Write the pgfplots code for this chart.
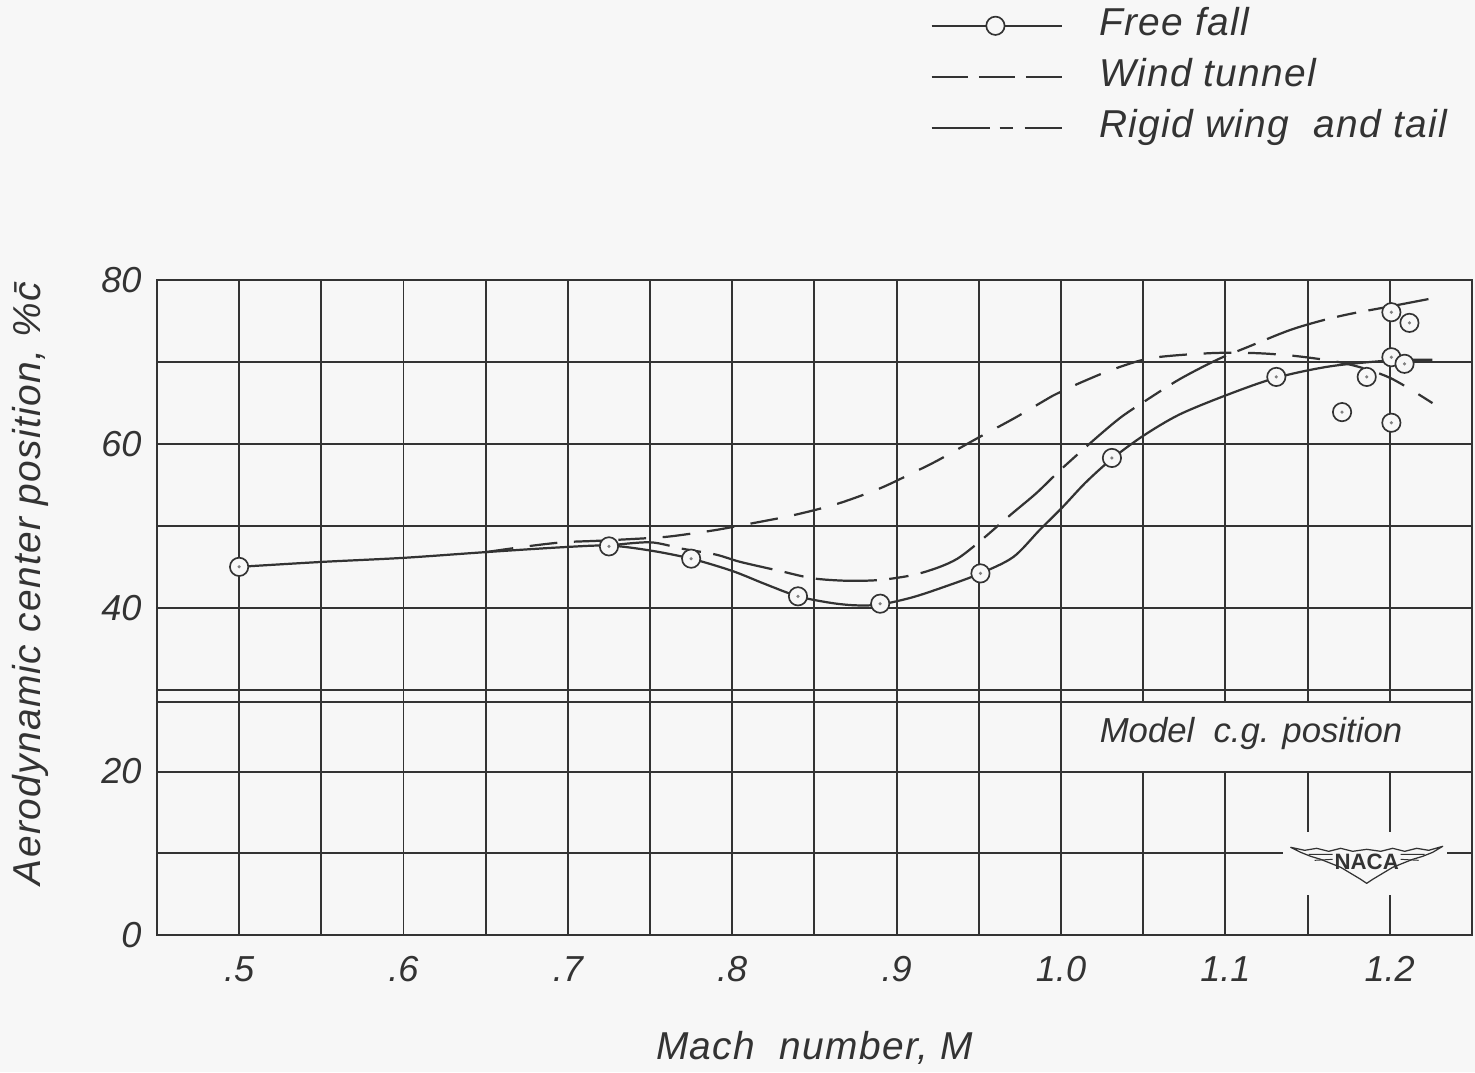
\documentclass[border=0pt]{standalone}
\usepackage{pgfplots}
\pgfplotsset{compat=1.18}
\usepackage{fontspec}
\setmainfont{Liberation Sans}
\newfontfamily\spaced{Liberation Sans}[LetterSpace=3.5]
\definecolor{ink}{rgb}{0.2,0.2,0.2}
\definecolor{paper}{rgb}{0.97,0.97,0.97}

\begin{document}
\begin{tikzpicture}
\fill[paper] (0,0) rectangle (531pt,386pt);
\useasboundingbox (0,0) rectangle (531pt,386pt);
\begin{axis}[
  at={(56.5pt,49.3pt)}, anchor=south west,
  scale only axis, width=473.4pt, height=235.8pt,
  xmin=0.45, xmax=1.25, ymin=0, ymax=80,
  xtick={0.5,0.6,0.7,0.8,0.9,1.0,1.1,1.2},
  xticklabels={.5,.6,.7,.8,.9,1.0,1.1,1.2},
  minor xtick={0.55,0.65,0.75,0.85,0.95,1.05,1.15},
  ytick={0,20,40,60,80},
  yticklabels={0,20,40,60,80},
  minor ytick={10,30,50,70},
  grid=both,
  major grid style={ink, line width=0.7pt},
  minor grid style={ink, line width=0.7pt},
  axis line style={ink, line width=0.8pt},
  major tick length=0pt, minor tick length=0pt,
  tick label style={font=\fontsize{13}{15}\selectfont\itshape, text=ink},
  xticklabel style={yshift=-4pt},
  yticklabel style={xshift=-2pt},
  xlabel={Mach\ \ number, M},
  ylabel={Aerodynamic center position, \%\={c}},
  every axis x label/.style={at={(rel axis cs:0.5,0)}, yshift=-40.7pt, anchor=center, font=\fontsize{14}{17}\selectfont\spaced\itshape, text=ink},
  every axis y label/.style={at={(rel axis cs:0,0.537)}, xshift=-45.7pt, rotate=90, anchor=center, font=\fontsize{14}{17}\selectfont\spaced\itshape, text=ink},
  legend style={draw=none, fill=none, at={(rel axis cs:0.5878,1.417)}, anchor=north west,
    inner sep=0pt, row sep=5.4pt, font=\fontsize{14}{17}\selectfont\spaced\itshape, text=ink,
    nodes={text height=10pt, text depth=3pt, inner ysep=0pt, inner xsep=0pt},
    /tikz/every odd column/.append style={column sep=13pt}},
  legend cell align=left,
]
\addlegendimage{legend image code/.code={\draw[ink, line width=0.8pt] (0pt,0pt) -- (47pt,0pt); \draw[ink, line width=0.6pt, fill=paper] (23pt,0pt) circle (3.3pt);}}
\addlegendentry{Free fall}
\addlegendimage{legend image code/.code={\draw[ink, line width=0.8pt, dash pattern=on 13pt off 4pt] (0pt,0pt) -- (47pt,0pt);}}
\addlegendentry{Wind tunnel}
\addlegendimage{legend image code/.code={\draw[ink, line width=0.8pt, dash pattern=on 21pt off 3.5pt on 5pt off 4pt] (0pt,0pt) -- (47pt,0pt);}}
\addlegendentry{Rigid wing\ \ and tail}

% Wind tunnel
\addplot[ink, line width=0.8pt, smooth, tension=0.5, dash pattern=on 10pt off 6pt, forget plot] coordinates {
(0.650,46.8) (0.675,47.5) (0.697,48.0) (0.720,48.2) (0.756,48.6) (0.773,49.0)
(0.790,49.5) (0.809,50.2) (0.837,51.3) (0.864,52.7) (0.890,54.6) (0.910,56.5)
(0.925,58.0) (0.949,60.7) (0.972,63.2) (0.995,65.9) (1.004,66.8) (1.030,69.0)
(1.055,70.5) (1.091,71.1) (1.119,71.1) (1.145,70.7) (1.174,69.8) (1.200,68.1) (1.226,65.0)};

% Rigid wing and tail
\addplot[ink, line width=0.8pt, smooth, tension=0.5, dash pattern=on 22pt off 4.5pt on 7pt off 4.5pt, forget plot] coordinates {
(0.725,47.6) (0.750,48.0) (0.770,47.2) (0.790,46.5) (0.805,45.6) (0.829,44.5)
(0.849,43.6) (0.870,43.3) (0.890,43.4) (0.910,44.0) (0.925,44.9) (0.937,46.0)
(0.950,48.0) (0.969,51.3) (0.985,54.0) (1.000,56.9) (1.020,60.5) (1.036,63.2)
(1.050,65.1) (1.072,67.9) (1.095,70.3) (1.113,71.8) (1.139,73.9) (1.159,75.1)
(1.176,75.9) (1.200,76.8) (1.226,77.8)};

% Free fall faired curve
\addplot[ink, line width=0.8pt, smooth, tension=0.5, forget plot] coordinates {
(0.500,45.0) (0.550,45.6) (0.600,46.1) (0.650,46.8) (0.697,47.4) (0.725,47.6)
(0.750,47.0) (0.775,46.0) (0.800,44.5) (0.820,42.9) (0.840,41.4) (0.860,40.6)
(0.875,40.3) (0.890,40.4) (0.910,41.3) (0.931,42.7) (0.951,44.2) (0.971,46.2)
(0.987,49.5) (1.001,52.3) (1.015,55.3) (1.031,58.2) (1.050,61.0) (1.072,63.6)
(1.101,66.0) (1.131,68.1) (1.164,69.5) (1.200,70.2) (1.226,70.3)};

% Free fall data points
\addplot[only marks, mark=*, mark size=3.3pt, mark options={draw=ink, fill=paper, line width=0.6pt}, forget plot] coordinates {
(0.500,45.0) (0.725,47.5) (0.775,46.0) (0.840,41.4) (0.890,40.5) (0.951,44.2)
(1.031,58.3) (1.131,68.2) (1.171,63.9) (1.186,68.2) (1.201,76.1) (1.212,74.8)
(1.201,70.6) (1.209,69.8) (1.201,62.6)};
\addplot[only marks, mark=*, mark size=0.35pt, color=gray, forget plot] coordinates {
(0.500,45.0) (0.725,47.5) (0.775,46.0) (0.840,41.4) (0.890,40.5) (0.951,44.2)
(1.031,58.3) (1.131,68.2) (1.171,63.9) (1.186,68.2) (1.201,76.1) (1.212,74.8)
(1.201,70.6) (1.209,69.8) (1.201,62.6)};

\coordinate (cgA) at (axis cs:1.0,20);
\coordinate (cgB) at (axis cs:1.25,28.5);
\coordinate (cgL) at (axis cs:0.45,28.5);
\coordinate (cgT) at (axis cs:1.1156,24.7);
\coordinate (naca) at (axis cs:1.186,8.91);
\end{axis}

% c.g. position band
\fill[paper] (cgA) rectangle (cgB);
\draw[ink, line width=0.7pt] (cgL) -- (cgB);
\draw[ink, line width=0.7pt] (cgA) -- (cgA -| cgB);
\draw[ink, line width=0.7pt] (cgA) -- (cgA |- cgB);
\draw[ink, line width=0.8pt] (cgA -| cgB) -- (cgB);
\node[font=\fontsize{12.5}{15}\selectfont\itshape, text=ink] at (cgT) {Model\ \ c.g. position};

% NACA emblem
\begin{scope}[shift={(naca)}, x=0.36pt, y=0.36pt]
\fill[paper] (-84,-33) rectangle (80,30);
\draw[ink, line width=0.45pt, line join=round]
  (-76,15) -- (-62,12) -- (-50,14) -- (-38,11) -- (-26,14) -- (-14,11) -- (0,13)
  -- (14,11) -- (26,14) -- (38,11) -- (50,14) -- (62,12) -- (76,16)
  -- (66,10) -- (56,6) -- (46,3) -- (36,-1) -- (26,-5) -- (16,-11) -- (6,-17) -- (0,-21)
  -- (-6,-17) -- (-16,-11) -- (-26,-5) -- (-36,-1) -- (-46,3) -- (-56,6) -- (-66,10) -- cycle;
\draw[ink, line width=0.35pt] (-58,8) -- (-34,8) (34,8) -- (58,8) (-52,2) -- (-34,3) (34,3) -- (52,2);
\node[font=\fontsize{8}{9}\selectfont\bfseries, text=ink, inner sep=0pt] at (0,0) {NACA};
\end{scope}
\end{tikzpicture}
\end{document}
